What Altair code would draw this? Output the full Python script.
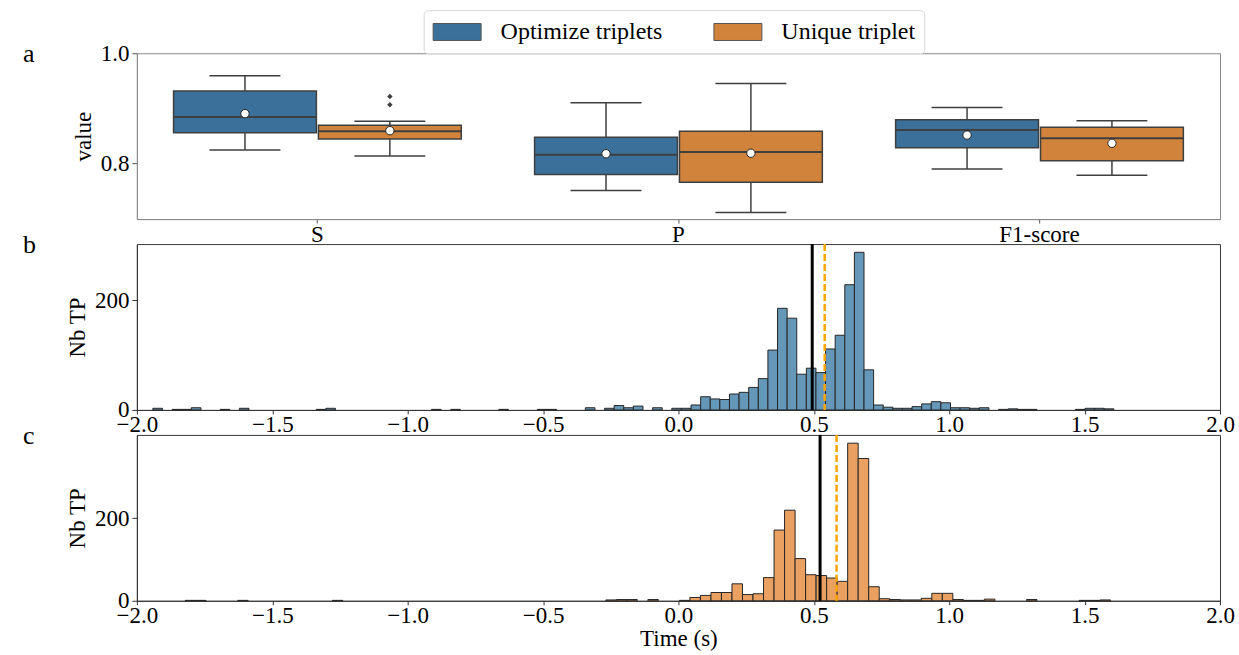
import altair as alt
import pandas as pd

FONT = "Liberation Serif"

# ---------------- panel a : box plots ----------------
metrics = ["S", "P", "F1-score"]
groups = ["Optimize triplets", "Unique triplet"]
box_metric = ["S", "S", "P", "P", "F1-score", "F1-score"]
box_group = ["Optimize triplets", "Unique triplet"] * 3
whisk_lo = [0.824, 0.813, 0.750, 0.710, 0.789, 0.778]
q1 = [0.855, 0.844, 0.779, 0.765, 0.828, 0.804]
med = [0.884, 0.858, 0.815, 0.820, 0.860, 0.845]
q3 = [0.931, 0.869, 0.847, 0.858, 0.879, 0.865]
whisk_hi = [0.959, 0.876, 0.910, 0.945, 0.901, 0.877]
means = [0.890, 0.859, 0.817, 0.818, 0.851, 0.836]
out_metric = ["S", "S"]
out_group = ["Unique triplet", "Unique triplet"]
out_value = [0.921, 0.906]

# ---------------- panel b / c : histograms ----------------
b_first_edge = -1.941
b_bin_width = 0.03549
b_counts = [3, 0, 1, 1, 4, 0, 0, 1, 0, 3,
            0, 0, 0, 0, 0, 0, 0, 1, 3, 0,
            0, 0, 0, 0, 0, 0, 0, 0, 0, 1,
            0, 1, 0, 0, 0, 0, 1, 0, 0, 0,
            1, 1, 0, 0, 0, 4, 0, 3, 8, 4,
            7, 0, 4, 0, 3, 3, 9, 24, 20, 19,
            29, 32, 41, 57, 109, 185, 167, 65, 76, 68,
            111, 136, 228, 287, 73, 9, 5, 3, 3, 6,
            11, 15, 13, 4, 4, 3, 4, 0, 1, 2,
            1, 1, 0, 0, 0, 0, 1, 3, 3, 2]
c_first_edge = -1.822
c_bin_width = 0.03884
c_counts = [1, 1, 0, 0, 0, 1, 0, 0, 0, 0,
            0, 0, 0, 0, 1, 0, 0, 0, 0, 0,
            0, 0, 0, 0, 0, 0, 0, 0, 0, 0,
            0, 0, 0, 0, 0, 0, 0, 0, 0, 0,
            2, 3, 3, 0, 3, 0, 0, 1, 8, 13,
            20, 20, 41, 15, 17, 56, 171, 219, 102, 63,
            61, 55, 47, 381, 344, 34, 5, 3, 2, 2,
            6, 18, 18, 3, 1, 1, 4, 0, 0, 0,
            3, 0, 0, 0, 0, 1, 1, 2]
b_black_line = 0.494
b_orange_line = 0.540
c_black_line = 0.523
c_orange_line = 0.584
x_ticks = [-2.0, -1.5, -1.0, -0.5, 0.0, 0.5, 1.0, 1.5, 2.0]
panel_letters = ["a", "b", "c"]

BLUE = "#3b709a"
ORANGE = "#d1833c"
HBLUE = "#6597b9"
HORANGE = "#e9a061"
EDGE = "#3f3f3f"
W, H = 1084, 166

# ---------- panel a ----------
box_df = pd.DataFrame(dict(metric=box_metric, group=box_group, lo=whisk_lo, q1=q1,
                           med=med, q3=q3, hi=whisk_hi, mean=means))
out_df = pd.DataFrame(dict(metric=out_metric, group=out_group, lo=out_value))

xa = alt.X("metric:N", sort=metrics, title=None,
           scale=alt.Scale(domain=metrics, paddingInner=0, paddingOuter=0),
           axis=alt.Axis(labelAngle=0, domainColor="#8a8a8a", tickColor="#555555",
                         labelPadding=0, tickSize=4))
xoff = alt.XOffset("group:N", sort=groups,
                   scale=alt.Scale(domain=groups, paddingInner=0.014, paddingOuter=0.253))


def ya(field):
    return alt.Y(field, title="value",
                 scale=alt.Scale(domain=[0.698, 1.0], nice=False, zero=False),
                 axis=alt.Axis(values=[0.8, 1.0], format=".1f", domainColor="#8a8a8a",
                               tickColor="#555555", titlePadding=5))


whiskers = alt.Chart(box_df).mark_rule(color=EDGE, strokeWidth=1.5).encode(
    x=xa, xOffset=xoff, y=ya("lo:Q"), y2="hi:Q")
boxes = alt.Chart(box_df).mark_bar(stroke=EDGE, strokeWidth=1.5, opacity=1).encode(
    x=xa, xOffset=xoff, y=ya("q1:Q"), y2="q3:Q",
    color=alt.Color("group:N", sort=groups,
                    scale=alt.Scale(domain=groups, range=[BLUE, ORANGE]),
                    legend=alt.Legend(
                        title=None, orient="none", legendX=287, legendY=-43,
                        direction="horizontal", columns=2, columnPadding=49,
                        symbolType="M-2,-0.708L2,-0.708L2,0.708L-2,0.708Z",
                        symbolSize=576, symbolOffset=12,
                        symbolStrokeColor="#555555",
                        symbolStrokeWidth=1, symbolOpacity=1,
                        labelFont=FONT, labelFontSize=24, labelColor="black",
                        labelOffset=31, labelLimit=400, padding=9,
                        fillColor="white",
                        strokeColor="#d6d6d6", cornerRadius=4)))
medians = alt.Chart(box_df).mark_tick(color=EDGE, thickness=2, size=143, opacity=1).encode(
    x=xa, xOffset=xoff, y=ya("med:Q"))
caps_lo = alt.Chart(box_df).mark_tick(color=EDGE, thickness=1.5, size=71, opacity=1).encode(
    x=xa, xOffset=xoff, y=ya("lo:Q"))
caps_hi = alt.Chart(box_df).mark_tick(color=EDGE, thickness=1.5, size=71, opacity=1).encode(
    x=xa, xOffset=xoff, y=ya("hi:Q"))
mean_pts = alt.Chart(box_df).mark_point(shape="circle", filled=True, fill="white",
                                        stroke="#222222", strokeWidth=1, size=70,
                                        opacity=1).encode(
    x=xa, xOffset=xoff, y=ya("mean:Q"))
outliers = alt.Chart(out_df).mark_point(shape="diamond", filled=True, color=EDGE,
                                        size=30, opacity=1).encode(
    x=xa, xOffset=xoff, y=ya("lo:Q"))


def letter(ch):
    return alt.Chart(pd.DataFrame({"t": [ch]})).mark_text(
        align="left", baseline="alphabetic", fontSize=26, font=FONT, color="black"
    ).encode(text="t:N", x=alt.value(-114), y=alt.value(9))


panel_a = alt.layer(whiskers, boxes, medians, caps_lo, caps_hi, mean_pts, outliers,
                    letter(panel_letters[0])).properties(
    width=W, height=H, view=alt.ViewBackground(stroke="#8a8a8a"))


# ---------- panels b and c ----------
def hist_panel(first_edge, width, counts, fill, ymax, black_x, orange_x, ch, xtitle):
    starts = [first_edge + i * width for i in range(len(counts))]
    ends = [s + width for s in starts]
    df = pd.DataFrame({"start": starts, "end": ends, "count": counts})

    def xe(field):
        return alt.X(field, title=xtitle,
                     scale=alt.Scale(domain=[-2, 2], nice=False, zero=False),
                     axis=alt.Axis(values=x_ticks, format=".1f", labelFlush=False,
                                   labelOverlap=False, domainColor="#333333",
                                   tickColor="#333333", labelPadding=0, tickSize=4,
                                   titlePadding=0))

    ye = alt.Y("count:Q", title="Nb TP",
               scale=alt.Scale(domain=[0, ymax], nice=False),
               axis=alt.Axis(values=[0, 200], domainColor="#333333",
                             tickColor="#333333", titlePadding=5))
    bars = alt.Chart(df).transform_filter("datum.count > 0").mark_bar(
        fill=fill, stroke="#262626", strokeWidth=1, opacity=1
    ).encode(x=xe("start:Q"), x2="end:Q", y=ye, y2=alt.datum(0))
    black = alt.Chart(pd.DataFrame({"start": [black_x]})).mark_rule(
        color="black", strokeWidth=3).encode(x=xe("start:Q"))
    orange = alt.Chart(pd.DataFrame({"start": [orange_x]})).mark_rule(
        color="orange", strokeWidth=2.5, strokeDash=[7, 3]).encode(x=xe("start:Q"))
    return alt.layer(bars, black, orange, letter(ch)).properties(width=W, height=H)


panel_b = hist_panel(b_first_edge, b_bin_width, b_counts, HBLUE, 302,
                     b_black_line, b_orange_line, panel_letters[1], None)
panel_c = hist_panel(c_first_edge, c_bin_width, c_counts, HORANGE, 401,
                     c_black_line, c_orange_line, panel_letters[2], "Time (s)")

chart = alt.vconcat(panel_a, panel_b, panel_c, spacing=25, bounds="flush").resolve_scale(
    x="independent", y="independent", color="independent"
).properties(
    padding={"left": 22, "top": 9, "right": 4, "bottom": 4}
).configure(font=FONT).configure_axis(
    labelFont=FONT, titleFont=FONT, labelFontSize=23, titleFontSize=23,
    labelColor="black", titleColor="black", titleFontWeight="normal",
    grid=False, tickSize=5, labelPadding=3
).configure_view(stroke="#3a3a3a")

chart.save("out.html", embed_options={"renderer": "svg", "actions": False})
